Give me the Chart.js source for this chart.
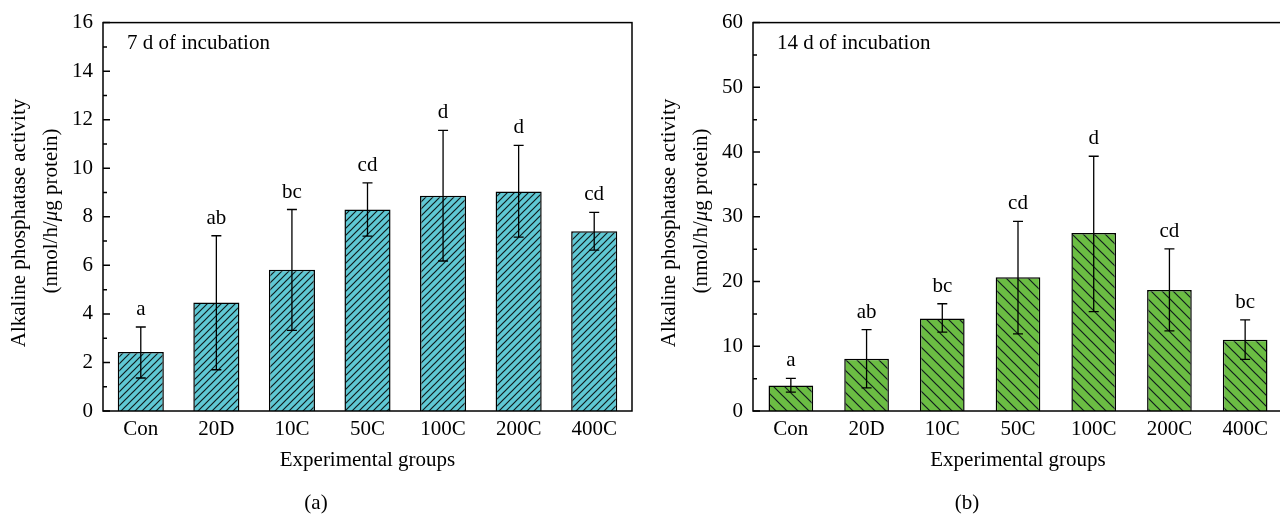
<!DOCTYPE html>
<html>
<head>
<meta charset="utf-8">
<script src="https://cdn.jsdelivr.net/npm/chart.js@4.4.1/dist/chart.umd.min.js"></script>
<style>
  html, body { margin: 0; padding: 0; background: #fff; overflow: hidden; }
  body { width: 1280px; height: 516px; position: relative; }
  canvas { position: absolute; top: 0; }
  #c7 { left: 0; }
  #c14 { left: 640px; }
</style>
</head>
<body>
<canvas id="c7" width="640" height="516"></canvas>
<canvas id="c14" width="650" height="516"></canvas>
<script>
// groups on the x axis
const groups = ['Con', '20D', '10C', '50C', '100C', '200C', '400C'];

// (a) 7 d of incubation
const day7Mean = [2.43, 4.47, 5.82, 8.30, 8.87, 9.04, 7.40];
const day7Upper = [3.46, 7.22, 8.30, 9.40, 11.56, 10.94, 8.18];
const day7Lower = [1.36, 1.70, 3.32, 7.20, 6.18, 7.16, 6.63];
const day7Letters = ['a', 'ab', 'bc', 'cd', 'd', 'd', 'cd'];
const day7Ticks = [0, 2, 4, 6, 8, 10, 12, 14, 16];

// (b) 14 d of incubation
const day14Mean = [3.94, 8.08, 14.3, 20.66, 27.48, 18.69, 11.0];
const day14Upper = [5.05, 12.58, 16.57, 29.3, 39.35, 25.05, 14.09];
const day14Lower = [2.93, 3.58, 12.17, 11.92, 15.36, 12.37, 7.98];
const day14Letters = ['a', 'ab', 'bc', 'cd', 'd', 'cd', 'bc'];
const day14Ticks = [0, 10, 20, 30, 40, 50, 60];

const FONT = '"Liberation Serif", "Times New Roman", serif';
const FS = 21;

// diagonal hatch pattern on a coloured fill
function hatch(ctx, fill, step, dir) {
  const c = document.createElement('canvas');
  c.width = c.height = step;
  const g = c.getContext('2d');
  g.fillStyle = fill;
  g.fillRect(0, 0, step, step);
  g.strokeStyle = '#101c1c';
  g.lineWidth = 1.2;
  g.beginPath();
  if (dir === '/') {
    g.moveTo(-1, step + 1); g.lineTo(step + 1, -1);
    g.moveTo(-1, 1); g.lineTo(1, -1);
    g.moveTo(step - 1, step + 1); g.lineTo(step + 1, step - 1);
  } else {
    g.moveTo(-1, -1); g.lineTo(step + 1, step + 1);
    g.moveTo(step - 1, -1); g.lineTo(step + 1, 1);
    g.moveTo(-1, step - 1); g.lineTo(1, step + 1);
  }
  g.stroke();
  return ctx.createPattern(c, 'repeat');
}

// error bars, letters, frame, inner ticks and titles
const annot = {
  id: 'annot',
  afterDatasetsDraw(chart, args, o) {
    const { ctx, chartArea: a, scales: { x, y } } = chart;
    ctx.save();
    ctx.strokeStyle = '#000';
    ctx.fillStyle = '#000';

    // error bars + significance letters
    ctx.lineWidth = 1.3;
    ctx.font = FS + 'px ' + FONT;
    ctx.textAlign = 'center';
    ctx.textBaseline = 'alphabetic';
    o.mean.forEach((m, i) => {
      const px = x.getPixelForValue(i);
      const yt = y.getPixelForValue(o.upper[i]);
      const yb = y.getPixelForValue(o.lower[i]);
      ctx.beginPath();
      ctx.moveTo(px, yt); ctx.lineTo(px, yb);
      ctx.moveTo(px - 5, yt); ctx.lineTo(px + 5, yt);
      ctx.moveTo(px - 5, yb); ctx.lineTo(px + 5, yb);
      ctx.stroke();
      ctx.fillText(o.letters[i], px, yt - 12);
    });

    // frame
    ctx.lineWidth = 1.5;
    ctx.strokeRect(a.left, a.top, a.right - a.left, a.bottom - a.top);

    // ticks pointing inward, minor ones shorter
    const ticks = o.ticks;
    ctx.beginPath();
    ticks.forEach((t, i) => {
      const py = y.getPixelForValue(t);
      ctx.moveTo(a.left, py); ctx.lineTo(a.left + 7, py);
      if (i < ticks.length - 1) {
        const mid = y.getPixelForValue((t + ticks[i + 1]) / 2);
        ctx.moveTo(a.left, mid); ctx.lineTo(a.left + 4, mid);
      }
    });
    ctx.stroke();

    // inset label
    ctx.textAlign = 'left';
    ctx.textBaseline = 'middle';
    ctx.fillText(o.inset, a.left + 24, 43);

    // x title and panel caption
    ctx.textAlign = 'center';
    ctx.fillText('Experimental groups', (a.left + a.right) / 2, 460);
    ctx.fillText(o.caption, o.captionX, 503);

    // y title, two lines, italic mu
    ctx.save();
    ctx.translate(a.left - 84, 223);
    ctx.rotate(-Math.PI / 2);
    ctx.fillText('Alkaline phosphatase activity', 0, 0);
    ctx.restore();

    ctx.save();
    ctx.translate(a.left - 52, 211);
    ctx.rotate(-Math.PI / 2);
    const parts = [['(nmol/h/', 'normal'], ['\u03bc', 'italic'], ['g protein)', 'normal']];
    let total = 0;
    parts.forEach(p => { ctx.font = p[1] + ' ' + FS + 'px ' + FONT; total += ctx.measureText(p[0]).width; });
    let cx = -total / 2;
    ctx.textAlign = 'left';
    parts.forEach(p => {
      ctx.font = p[1] + ' ' + FS + 'px ' + FONT;
      ctx.fillText(p[0], cx, 0);
      cx += ctx.measureText(p[0]).width;
    });
    ctx.restore();

    ctx.restore();
  }
};

function makeChart(id, cfg) {
  const canvas = document.getElementById(id);
  const ctx = canvas.getContext('2d');
  return new Chart(canvas, {
    type: 'bar',
    data: {
      labels: groups,
      datasets: [{
        data: cfg.mean,
        backgroundColor: hatch(ctx, cfg.fill, cfg.step, cfg.dir),
        borderColor: '#000',
        borderWidth: 1.5,
        barPercentage: cfg.barPct,
        categoryPercentage: 1
      }]
    },
    options: {
      responsive: false,
      animation: false,
      devicePixelRatio: 1,
      layout: { padding: { top: 16, right: cfg.padRight, left: 0, bottom: 0 } },
      plugins: {
        legend: { display: false },
        tooltip: { enabled: false },
        annot: {
          mean: cfg.mean, upper: cfg.upper, lower: cfg.lower, letters: cfg.letters,
          ticks: cfg.ticks, inset: cfg.inset, caption: cfg.caption, captionX: cfg.captionX
        }
      },
      scales: {
        x: {
          grid: { display: false, drawTicks: false },
          border: { display: false },
          ticks: { color: '#000', font: { family: FONT, size: FS }, padding: 6, maxRotation: 0 },
          afterFit: s => { s.height = 105; }
        },
        y: {
          min: cfg.ticks[0],
          max: cfg.ticks[cfg.ticks.length - 1],
          grid: { display: false, drawTicks: false },
          border: { display: false },
          ticks: { color: '#000', font: { family: FONT, size: FS }, padding: 10, stepSize: cfg.ticks[1] - cfg.ticks[0] },
          afterFit: s => { s.width = cfg.yWidth; }
        }
      }
    },
    plugins: [annot]
  });
}

makeChart('c7', {
  mean: day7Mean, upper: day7Upper, lower: day7Lower, letters: day7Letters, ticks: day7Ticks,
  fill: '#5fc8d4', step: 7, dir: '/', barPct: 0.61,
  yWidth: 103, padRight: 8,
  inset: '7 d of incubation', caption: '(a)', captionX: 316
});

makeChart('c14', {
  mean: day14Mean, upper: day14Upper, lower: day14Lower, letters: day14Letters, ticks: day14Ticks,
  fill: '#6bbd43', step: 11, dir: '\\', barPct: 0.59,
  yWidth: 113, padRight: 7,
  inset: '14 d of incubation', caption: '(b)', captionX: 327
});
</script>
</body>
</html>
